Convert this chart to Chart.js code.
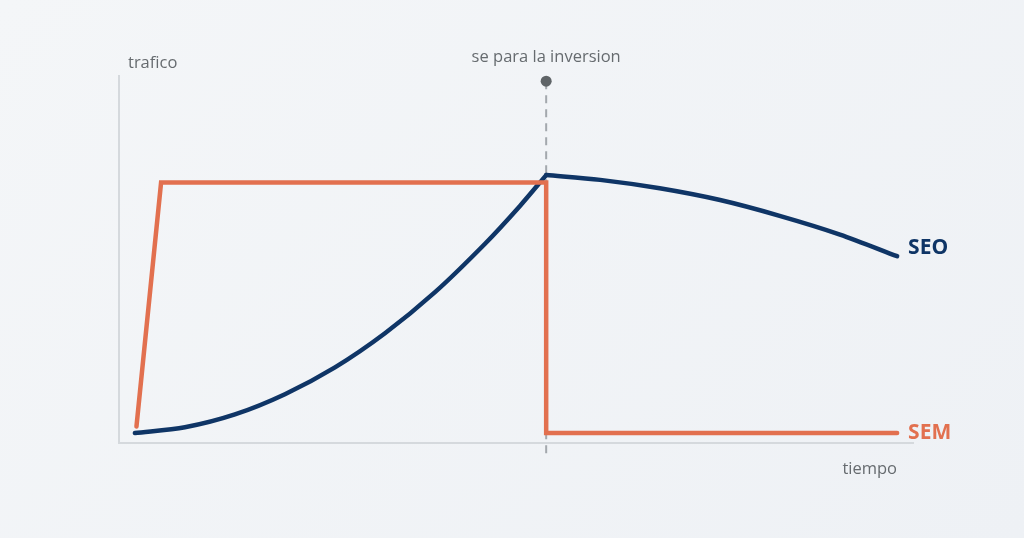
<!DOCTYPE html>
<html>
<head>
<meta charset="utf-8">
<script src="https://cdn.jsdelivr.net/npm/chart.js@4.4.1/dist/chart.umd.min.js"></script>
<style>
  html, body { margin: 0; padding: 0; }
  body { width: 1024px; height: 538px; background: linear-gradient(135deg, #f4f6f8 0%, #eef1f5 100%); overflow: hidden; }
  #wrap { position: relative; width: 1024px; height: 538px; }
</style>
</head>
<body>
<div id="wrap"><canvas id="c" width="1024" height="538"></canvas></div>
<script>
// ---- data (tiempo 0..100, trafico 0..100) ----
const seoTime    = [2.0, 8.3, 14.6, 20.9, 27.2, 33.5, 39.8, 46.1, 50.5, 53.8, 60.6, 68.1, 75.7, 83.2, 90.8, 98.0];
const seoTraffic = [2.7, 4.3, 7.8, 13.3, 20.6, 29.9, 41.1, 54.3, 64.6, 73.0, 71.7, 69.4, 66.2, 61.9, 56.8, 50.9];
const semTime    = [2.2, 5.3, 53.8, 53.8, 98.0];
const semTraffic = [4.5, 71.0, 71.0, 2.7, 2.7];
const stopTime = 53.8;          // "se para la inversion"
const seriesLabels = ['SEO', 'SEM'];
const axisLabels = { y: 'trafico', x: 'tiempo' };
const eventLabel = 'se para la inversion';

const SEO_COLOR = '#0f3566';
const SEM_COLOR = '#e2704f';
const TEXT_COLOR = '#666b6f';
const FONT = '"Open Sans", "Noto Sans", sans-serif';

const toPts = (xs, ys) => xs.map((x, i) => ({ x, y: ys[i] }));
const stopIdx = seoTime.indexOf(stopTime);
const seoAll = toPts(seoTime, seoTraffic);

const annot = {
  id: 'annot',
  beforeDatasetsDraw(chart) {
    const { ctx, scales: { x, y } } = chart;
    const px = x.getPixelForValue(stopTime);
    ctx.save();
    ctx.strokeStyle = '#a3a8ad';
    ctx.lineWidth = 2;
    ctx.setLineDash([8, 6]);
    ctx.beginPath();
    ctx.moveTo(px, y.getPixelForValue(98.6));
    ctx.lineTo(px, y.getPixelForValue(-3.3));
    ctx.stroke();
    ctx.restore();
  },
  afterDraw(chart) {
    const { ctx, chartArea: a, scales: { x, y } } = chart;
    const px = x.getPixelForValue(stopTime);
    ctx.save();
    // dot
    ctx.fillStyle = '#5f6467';
    ctx.beginPath();
    ctx.arc(px, y.getPixelForValue(98.6), 5.5, 0, Math.PI * 2);
    ctx.fill();
    // texts
    ctx.fillStyle = TEXT_COLOR;
    ctx.font = '16.5px ' + FONT;
    ctx.textBaseline = 'middle';
    ctx.textAlign = 'left';
    ctx.fillText(axisLabels.y, a.left + 9, a.top - 13);
    ctx.textAlign = 'center';
    ctx.fillText(eventLabel, px, a.top - 19);
    ctx.textAlign = 'right';
    ctx.fillText(axisLabels.x, a.right - 16, a.bottom + 26);
    // series labels
    ctx.font = 'bold 21px ' + FONT;
    ctx.textAlign = 'left';
    const seoEnd = seoAll[seoAll.length - 1];
    ctx.fillStyle = SEO_COLOR;
    ctx.fillText(seriesLabels[0], x.getPixelForValue(seoEnd.x) + 11, y.getPixelForValue(seoEnd.y) - 8);
    ctx.fillStyle = SEM_COLOR;
    ctx.fillText(seriesLabels[1], x.getPixelForValue(semTime[semTime.length - 1]) + 11, y.getPixelForValue(semTraffic[semTraffic.length - 1]));
    ctx.restore();
  }
};

const common = { fill: false, pointRadius: 0, borderWidth: 4.5, borderCapStyle: 'round', borderJoinStyle: 'miter', clip: false };

new Chart(document.getElementById('c'), {
  type: 'line',
  data: {
    datasets: [
      { ...common, label: 'SEM', data: toPts(semTime, semTraffic), borderColor: SEM_COLOR, tension: 0 },
      { ...common, label: 'SEO', data: seoAll.slice(0, stopIdx + 1), borderColor: SEO_COLOR, tension: 0.3 },
      { ...common, label: 'SEO', data: seoAll.slice(stopIdx), borderColor: SEO_COLOR, tension: 0.3 }
    ]
  },
  options: {
    responsive: false,
    animation: false,
    events: [],
    layout: { padding: { left: 119, right: 111, top: 76, bottom: 95 } },
    plugins: { legend: { display: false }, tooltip: { enabled: false }, title: { display: false } },
    scales: {
      x: {
        type: 'linear', min: 0, max: 100,
        ticks: { display: false },
        grid: { display: false, drawTicks: false },
        border: { display: true, color: '#d5d9dd', width: 2 }
      },
      y: {
        type: 'linear', min: 0, max: 100,
        ticks: { display: false },
        grid: { display: false, drawTicks: false },
        border: { display: true, color: '#d5d9dd', width: 2 }
      }
    }
  },
  plugins: [annot]
});
</script>
</body>
</html>
